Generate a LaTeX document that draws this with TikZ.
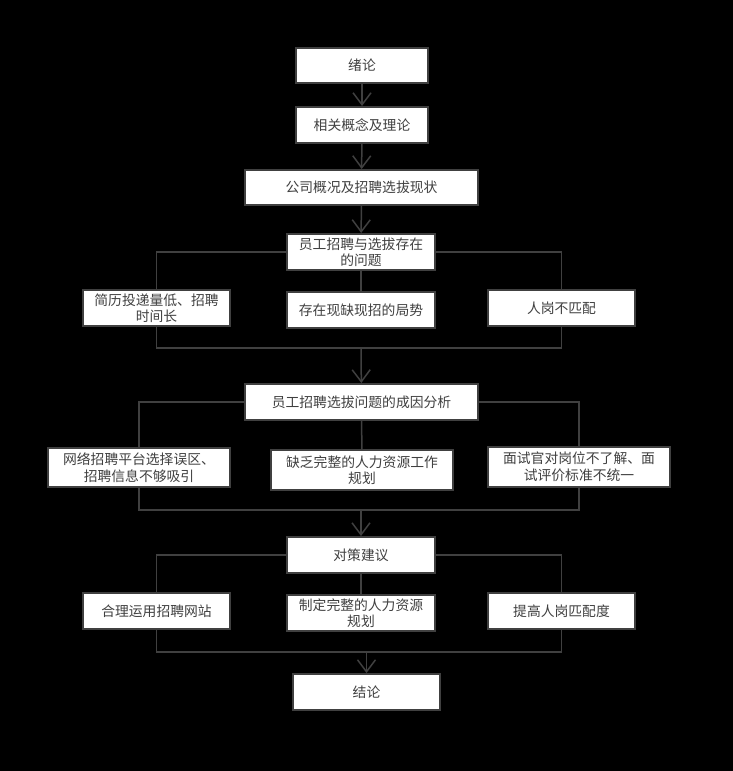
\documentclass[tikz,border=0pt]{standalone}
\usepackage{fontspec}
\setmainfont{Noto Sans CJK SC}
\usetikzlibrary{arrows.meta}
\begin{document}
\begin{tikzpicture}[x=1pt, y=-1pt,
    box/.style={draw=black!75, line width=2pt, fill=white, text=black!75, align=center,
        inner sep=1pt, font=\fontsize{13.8}{16.5}\selectfont},
    line/.style={draw=black!75, line width=1.5pt},
    arr/.style={line, -{Straight Barb[length=12pt, width=18pt, line width=1.5pt]}}]
    \useasboundingbox (0,0) rectangle (733,771);
    \fill[black] (0,0) rectangle (733,771);
    % main column
    \node[box, minimum width=132pt, minimum height=35pt] (xulun) at (362,65.5) {绪论};
    \node[box, minimum width=132pt, minimum height=36pt] (gainian) at (362,125) {相关概念及理论};
    \node[box, minimum width=233pt, minimum height=35pt] (xianzhuang) at (361.5,187.5) {公司概况及招聘选拔现状};
    \node[box, minimum width=148pt, minimum height=36pt] (wenti) at (361,252) {员工招聘与选拔存在\\的问题};
    \node[box, minimum width=233pt, minimum height=36pt] (chengyin) at (361.5,402) {员工招聘选拔问题的成因分析};
    \node[box, minimum width=148pt, minimum height=36pt] (duice) at (361,555) {对策建议};
    \node[box, minimum width=147pt, minimum height=36pt] (jielun) at (366.5,692) {结论};
    % problems
    \node[box, minimum width=147pt, minimum height=36pt] (wtA) at (156.5,308) {简历投递量低、招聘\\时间长};
    \node[box, minimum width=148pt, minimum height=36pt] (wtB) at (361,310) {存在现缺现招的局势};
    \node[box, minimum width=147pt, minimum height=36pt] (wtC) at (561.5,308) {人岗不匹配};
    % causes
    \node[box, minimum width=182pt, minimum height=39pt] (cyA) at (139,467.5) {网络招聘平台选择误区、\\招聘信息不够吸引};
    \node[box, minimum width=182pt, minimum height=40pt] (cyB) at (362,470) {缺乏完整的人力资源工作\\规划};
    \node[box, minimum width=182pt, minimum height=40pt] (cyC) at (579,467) {面试官对岗位不了解、面\\试评价标准不统一};
    % measures
    \node[box, minimum width=147pt, minimum height=36pt] (dcA) at (156.5,611) {合理运用招聘网站};
    \node[box, minimum width=148pt, minimum height=36pt] (dcB) at (361,613) {制定完整的人力资源\\规划};
    \node[box, minimum width=147pt, minimum height=36pt] (dcC) at (561.5,611) {提高人岗匹配度};
    \coordinate (hui1) at (361,348);
    \coordinate (hui2) at (361,510);
    \coordinate (hui3) at (366.5,652);
    \draw[arr] (xulun) -- (gainian);
    \draw[arr] (gainian) -- (xianzhuang);
    \draw[arr] (xianzhuang) -- (wenti);
    \draw[line] (wenti.west) -| (wtA);
    \draw[line] (wenti) -- (wtB);
    \draw[line] (wenti.east) -| (wtC);
    \draw[line] (wtA) |- (hui1) -| (wtC);
    \draw[arr] (hui1) -- (chengyin);
    \draw[line] (chengyin.west) -| (cyA);
    \draw[line] (chengyin) -- (cyB);
    \draw[line] (chengyin.east) -| (cyC);
    \draw[line] (cyA) |- (hui2) -| (cyC);
    \draw[arr] (hui2) -- (duice);
    \draw[line] (duice.west) -| (dcA);
    \draw[line] (duice) -- (dcB);
    \draw[line] (duice.east) -| (dcC);
    \draw[line] (dcA) |- (hui3) -| (dcC);
    \draw[arr] (hui3) -- (jielun);
\end{tikzpicture}
\end{document}
